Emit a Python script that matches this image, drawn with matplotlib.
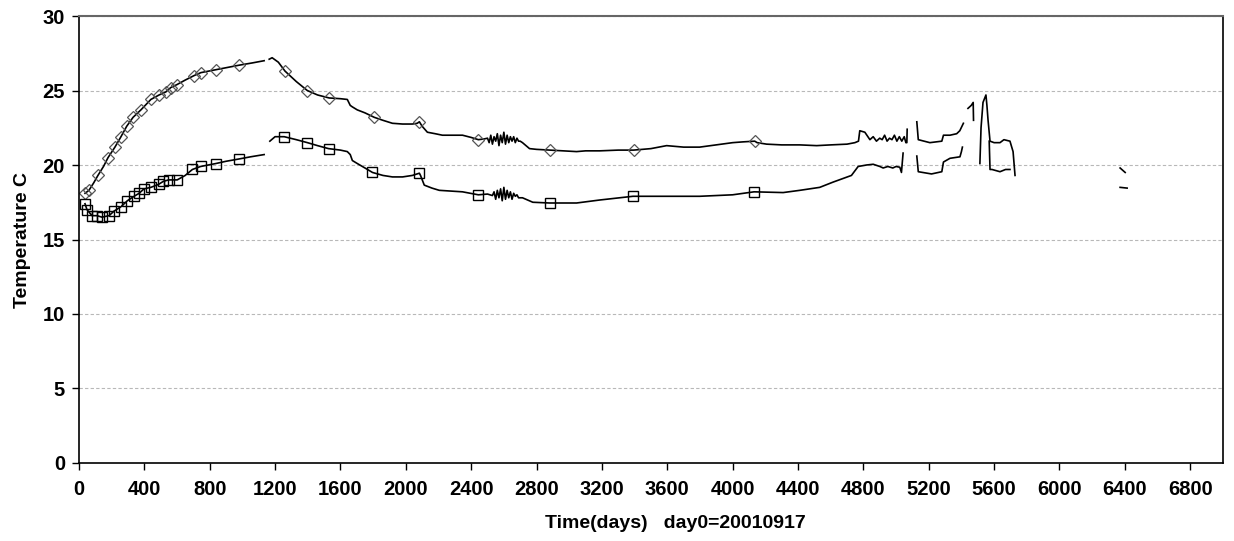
import numpy as np
import matplotlib.pyplot as plt

nan = np.nan

# upper sensor (diamonds) - full trace, NaN = gap in record
upper_day = [37, 61, 90, 116, 150, 178, 220, 257, 292, 331, 379, 440, 490, 531, 562, 600, 650,
             704, 746, 840, 980, 1060, 1133, nan,
             1164, 1182, 1220, 1261, 1330, 1397, 1460, 1531, 1600, 1642, 1660, 1673, 1703, 1750,
             1807, 1860, 1918, 1980, 2040, 2070, 2083, 2100, 2132, 2180, 2224, 2347, 2400, 2444, 2480,
             2500, 2510, 2520, 2530, 2540, 2550, 2560, 2570, 2580, 2590, 2600, 2610, 2620, 2630,
             2640, 2650, 2660, 2670, 2680, 2690, 2700,
             2714, 2757, 2800, 2885, 3045, 3100, 3186, 3300, 3394, 3500, 3596, 3650, 3700, 3798,
             3900, 4000, 4060, 4135, 4150, 4208, 4300, 4411, 4514, 4600, 4700, 4748, 4770, 4778,
             4809, 4840, 4860, 4880, 4900, 4915, 4930, 4945, 4960, 4975, 4990, 5005, 5020, 5035,
             5050, 5060, 5066, 5068, nan,
             5127, 5136, 5207, 5280, 5290, 5330, 5371, 5390, 5412, nan,
             5440, 5460, 5472, 5474, nan,
             5513, 5520, 5532, 5550, 5556, 5563, 5575, 5600, 5636, 5660, 5697, 5716, 5728, nan,
             6371, 6402]
upper_temp = [18.1, 18.3, 18.8, 19.3, 19.9, 20.5, 21.2, 21.9, 22.6, 23.2, 23.7, 24.4, 24.7, 24.9, 25.2, 25.4, 25.7,
              26.0, 26.2, 26.4, 26.7, 26.85, 27.0, nan,
              27.1, 27.2, 26.9, 26.3, 25.6, 25.0, 24.7, 24.5, 24.45, 24.4, 24.0, 23.9, 23.7, 23.5,
              23.2, 23.0, 22.8, 22.75, 22.75, 22.8, 22.9, 22.6, 22.2, 22.1, 22.0, 22.0, 21.85, 21.7, 21.75,
              21.8, 21.5, 22.0, 21.4, 21.9, 21.6, 22.1, 21.3, 22.0, 21.5, 22.2, 21.4, 22.0, 21.5,
              21.9, 21.6, 21.9, 21.5, 21.8, 21.6, 21.6,
              21.5, 21.1, 21.05, 21.0, 20.9, 20.95, 20.95, 21.0, 21.0, 21.1, 21.3, 21.25, 21.2, 21.2,
              21.35, 21.5, 21.55, 21.6, 21.5, 21.4, 21.35, 21.35, 21.3, 21.35, 21.4, 21.5, 21.6, 22.3,
              22.2, 21.7, 21.9, 21.6, 21.8, 21.7, 22.0, 21.6, 21.8, 21.7, 22.0, 21.6, 21.9, 21.6,
              21.9, 21.5, 21.5, 22.4, nan,
              22.9, 21.7, 21.5, 21.6, 22.0, 22.0, 22.1, 22.3, 22.8, nan,
              23.8, 24.0, 24.2, 23.0, nan,
              20.1, 22.5, 24.2, 24.7, 24.0, 23.0, 21.6, 21.5, 21.5, 21.7, 21.6, 20.9, 19.3, nan,
              19.8, 19.5]

# lower sensor (squares)
lower_day = [37, 49, 80, 110, 141, 184, 214, 257, 296, 337, 368, 398, 440, 487, 516, 548, 601, 650,
             694, 744, 838, 900, 977, 1050, 1133, nan,
             1168, 1200, 1256, 1330, 1398, 1460, 1527, 1600, 1642, 1660, 1673, 1703, 1750, 1796,
             1860, 1918, 1980, 2040, 2083, 2090, 2113, 2160, 2205, 2347, 2444, 2500,
             2530, 2540, 2550, 2560, 2570, 2580, 2590, 2600, 2610, 2620, 2630, 2640, 2650, 2660,
             2670, 2680, 2690, 2700,
             2714, 2777, 2880, 3045, 3186, 3390, 3596, 3798, 4000, 4131, 4309, 4411, 4533, 4614,
             4727, 4768, 4819, 4860, 4901, 4921, 4950, 4980, 5000, 5023, 5033, 5043, nan,
             5127, 5136, 5217, 5280, 5290, 5330, 5391, 5400, 5406, nan,
             5570, 5575, 5587, 5636, 5670, 5697, nan,
             6371, 6414]
lower_temp = [17.4, 17.0, 16.6, 16.6, 16.5, 16.6, 16.9, 17.2, 17.6, 17.9, 18.1, 18.4, 18.5, 18.7, 18.9, 19.0, 19.0, 19.3,
              19.7, 19.9, 20.1, 20.25, 20.4, 20.55, 20.7, nan,
              21.6, 21.9, 21.9, 21.7, 21.5, 21.3, 21.1, 21.0, 20.9, 20.7, 20.3, 20.1, 19.8, 19.5,
              19.3, 19.2, 19.2, 19.3, 19.45, 19.3, 18.65, 18.45, 18.3, 18.2, 18.0, 18.05,
              17.95, 18.2, 17.7, 18.3, 17.8, 18.4, 17.6, 18.5, 17.7, 18.3, 17.8, 18.2, 17.7, 18.1,
              17.9, 18.0, 17.8, 17.8,
              17.8, 17.5, 17.45, 17.45, 17.65, 17.9, 17.9, 17.9, 18.0, 18.2, 18.15, 18.3, 18.5, 18.85,
              19.3, 19.9, 20.0, 20.05, 19.9, 19.8, 19.9, 19.8, 19.9, 19.85, 19.5, 20.8, nan,
              20.6, 19.55, 19.4, 19.55, 20.2, 20.45, 20.55, 20.9, 21.2, nan,
              21.6, 19.7, 19.7, 19.55, 19.7, 19.7, nan,
              18.5, 18.45]

# points carrying a marker
upper_mark_day = [37, 61, 116, 178, 220, 257, 292, 331, 379, 440, 490, 531, 562, 600, 704, 746, 840, 980,
                  1261, 1397, 1531, 1807, 2083, 2444, 2885, 3394, 4135]
upper_mark_temp = [18.1, 18.3, 19.3, 20.5, 21.2, 21.9, 22.6, 23.2, 23.7, 24.4, 24.7, 24.9, 25.2, 25.4,
                   26.0, 26.2, 26.4, 26.7, 26.3, 25.0, 24.5, 23.2, 22.9, 21.7, 21.0, 21.0, 21.6]
lower_mark_day = [37, 49, 80, 110, 141, 184, 214, 257, 296, 337, 368, 398, 440, 487, 516, 548, 601,
                  694, 744, 838, 977, 1256, 1398, 1527, 1796, 2083, 2444, 2880, 3390, 4131]
lower_mark_temp = [17.4, 17.0, 16.6, 16.6, 16.5, 16.6, 16.9, 17.2, 17.6, 17.9, 18.1, 18.4, 18.5, 18.7, 18.9,
                   19.0, 19.0, 19.7, 19.9, 20.1, 20.4, 21.9, 21.5, 21.1, 19.5, 19.45, 18.0, 17.45, 17.9, 18.2]

plt.rcParams['font.family'] = ['Liberation Sans', 'DejaVu Sans']

fig = plt.figure(figsize=(12.34, 5.41), dpi=100)
ax = fig.add_axes([0.064, 0.1442, 0.927, 0.8262])

ax.yaxis.grid(True, linestyle=(0, (3, 2)), color='#b8b8b8', linewidth=0.8)
ax.set_axisbelow(True)

ax.plot(upper_day, upper_temp, color='black', linewidth=1.2)
ax.plot(lower_day, lower_temp, color='black', linewidth=1.2)
ax.plot(upper_mark_day, upper_mark_temp, linestyle='none', marker='D', markersize=6.5,
        markerfacecolor='none', markeredgecolor='#555555', markeredgewidth=0.9)
ax.plot(lower_mark_day, lower_mark_temp, linestyle='none', marker='s', markersize=7.5,
        markerfacecolor='none', markeredgecolor='black', markeredgewidth=1.0)

ax.set_xlim(0, 7000)
ax.set_ylim(0, 30)
ax.set_xticks(np.arange(0, 6801, 400))
ax.set_yticks(np.arange(0, 31, 5))
ax.tick_params(axis='both', direction='out', length=5, width=1, labelsize=14.5)
ax.tick_params(axis='x', pad=7)
ax.tick_params(axis='y', pad=5)
for lab in ax.get_xticklabels() + ax.get_yticklabels():
    lab.set_fontweight('bold')

for s in ['left', 'bottom', 'right']:
    ax.spines[s].set_color('black')
    ax.spines[s].set_linewidth(1.2)
ax.spines['top'].set_color('#666666')
ax.spines['top'].set_linewidth(1.5)

ax.set_xlabel('Time(days)   day0=20010917', fontsize=14, fontweight='bold', x=0.521, labelpad=12)
ax.set_ylabel('Temperature C', fontsize=14, fontweight='bold', labelpad=8)

fig.savefig('out.png', dpi=100)
